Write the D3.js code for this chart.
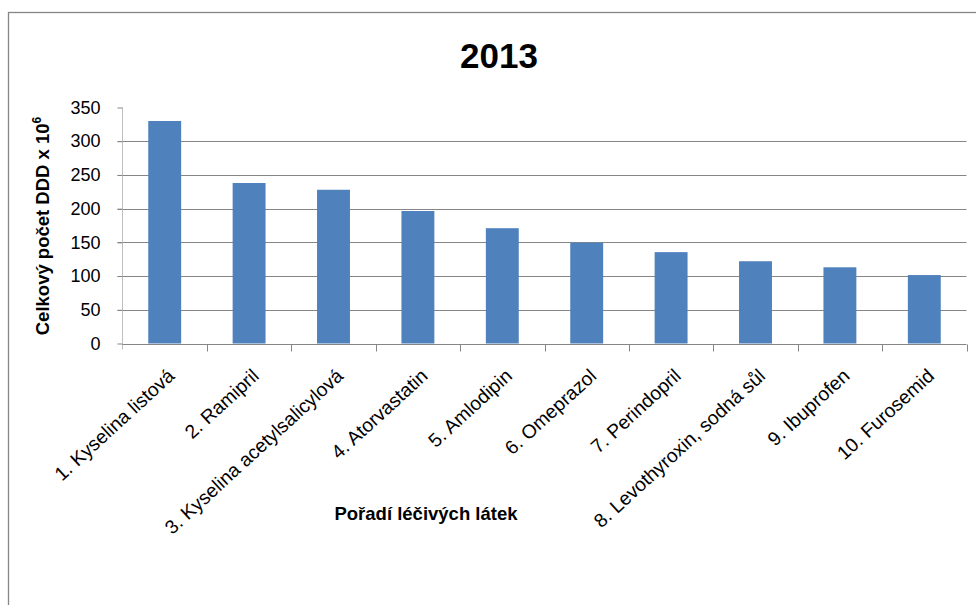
<!DOCTYPE html>
<html>
<head>
<meta charset="utf-8">
<script src="https://cdn.jsdelivr.net/npm/d3@7"></script>
<style>
  body { margin: 0; background: #fff; }
  svg { display: block; }
  text { font-family: "Liberation Sans", Arial, sans-serif; fill: #000; }
</style>
</head>
<body>
<svg id="chart" width="976" height="605"></svg>
<script>
// data
const categories = [
  "1. Kyselina listová",
  "2. Ramipril",
  "3. Kyselina acetylsalicylová",
  "4. Atorvastatin",
  "5. Amlodipin",
  "6. Omeprazol",
  "7. Perindopril",
  "8. Levothyroxin, sodná sůl",
  "9. Ibuprofen",
  "10. Furosemid",
];
const values = [330, 238, 228, 196.5, 171, 149.5, 135.5, 122, 113, 101.5];
const yTicks = [0, 50, 100, 150, 200, 250, 300, 350];

const width = 976, height = 605;
const margin = { top: 107.5, right: 9.5, bottom: 261.5, left: 122.5 };

const svg = d3.select("#chart");

// outer frame (runs off the right and bottom edges)
svg.append("rect")
  .attr("x", 8.5).attr("y", 12.5)
  .attr("width", 1000).attr("height", 700)
  .attr("fill", "none").attr("stroke", "#868686").attr("stroke-width", 1.3);

const x = d3.scaleBand().domain(categories)
  .range([margin.left, width - margin.right]).paddingInner(0.61).paddingOuter(0.305);
const y = d3.scaleLinear().domain([0, 350]).range([height - margin.bottom, margin.top]);

// gridlines (none on the top value)
svg.append("g")
  .selectAll("line")
  .data(yTicks.filter(d => d > 0 && d < 350))
  .join("line")
  .attr("x1", margin.left - 5).attr("x2", width - margin.right)
  .attr("y1", d => Math.round(y(d)) + 0.5).attr("y2", d => Math.round(y(d)) + 0.5)
  .attr("stroke", "#868686");

// bars
svg.append("g")
  .selectAll("rect")
  .data(values)
  .join("rect")
  .attr("x", (d, i) => x(categories[i]))
  .attr("y", d => y(d))
  .attr("width", x.bandwidth())
  .attr("height", d => y(0) - y(d))
  .attr("fill", "#4F81BD");

// y axis
const yAxis = svg.append("g")
  .attr("transform", `translate(${margin.left},0)`)
  .call(d3.axisLeft(y).tickValues(yTicks).tickSize(5).tickPadding(17));
yAxis.select(".domain").attr("stroke", "#bfbfbf").attr("d", `M0,${y(350)}V${y(0) + 6}`);
yAxis.selectAll(".tick line").attr("stroke", "#868686");
yAxis.selectAll(".tick text")
  .style("font-size", "18px")
  .style("font-family", "'Liberation Sans', Arial, sans-serif")
  .attr("fill", "#000");

// x axis with ticks on category boundaries
const xBase = Math.round(y(0)) + 0.5;
const bounds = d3.range(categories.length + 1).map(i => margin.left + i * (width - margin.right - margin.left) / categories.length);
svg.append("line")
  .attr("x1", margin.left).attr("x2", width - margin.right)
  .attr("y1", xBase).attr("y2", xBase)
  .attr("stroke", "#868686");
svg.append("g")
  .selectAll("line")
  .data(bounds.slice(1))
  .join("line")
  .attr("x1", d => Math.round(d) + 0.5).attr("x2", d => Math.round(d) + 0.5)
  .attr("y1", xBase).attr("y2", xBase + 7)
  .attr("stroke", "#868686");

// x labels, slanted
svg.append("g")
  .selectAll("text")
  .data(categories)
  .join("text")
  .attr("transform", d => `translate(${x(d) + x.bandwidth() / 2 + 11},${xBase + 33}) rotate(-42.5)`)
  .attr("text-anchor", "end")
  .style("font-size", "19.3px")
  .text(d => d);

// titles
svg.append("text")
  .attr("x", 499).attr("y", 68)
  .attr("text-anchor", "middle")
  .style("font-size", "35px").style("font-weight", "bold")
  .text("2013");

svg.append("text")
  .attr("transform", "translate(49,226) rotate(-90)")
  .attr("text-anchor", "middle")
  .style("font-size", "18.5px").style("font-weight", "bold")
  .html('Celkový počet DDD x 10<tspan dy="-8" style="font-size:12px">6</tspan>');

svg.append("text")
  .attr("x", 426).attr("y", 520)
  .attr("text-anchor", "middle")
  .style("font-size", "18.5px").style("font-weight", "bold")
  .text("Pořadí léčivých látek");
</script>
</body>
</html>
